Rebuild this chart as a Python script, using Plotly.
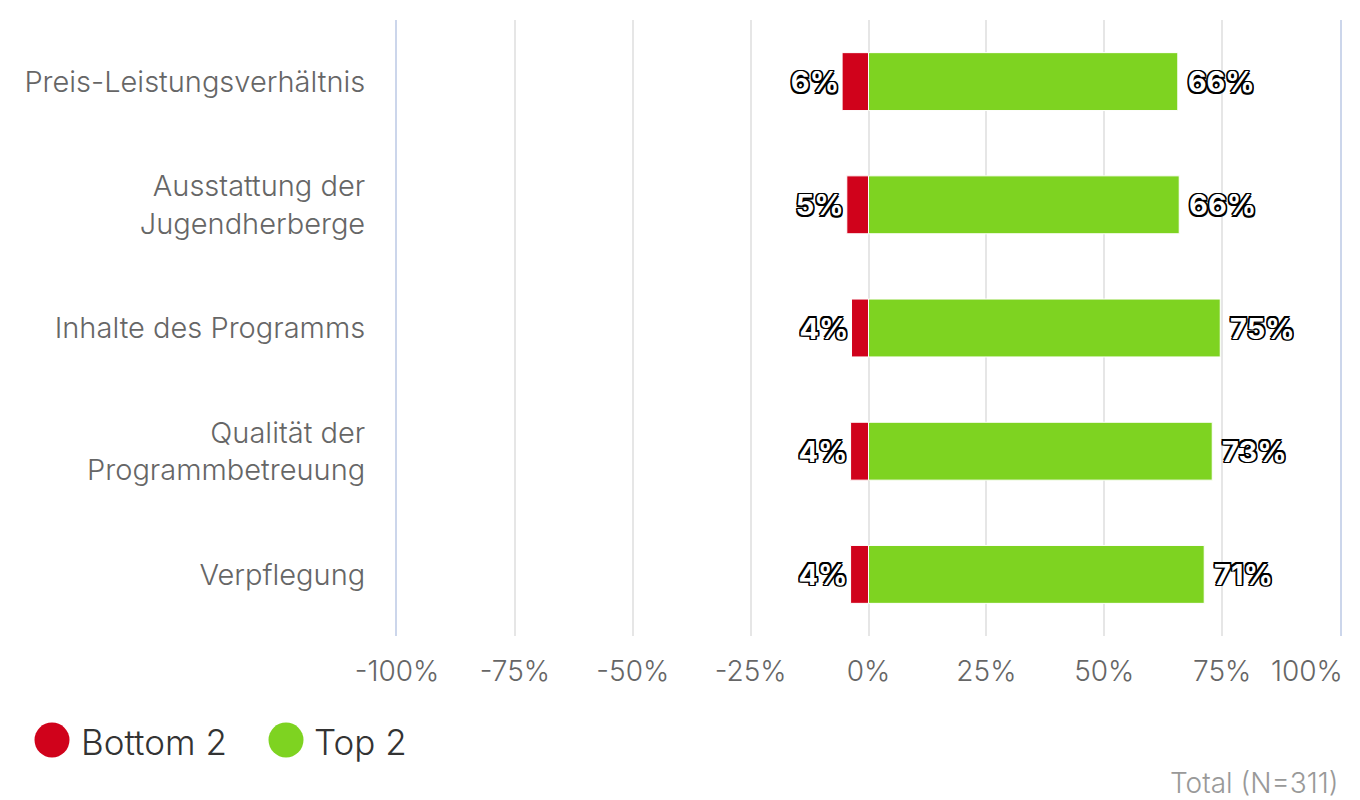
import plotly.graph_objects as go

# -----------------------------------------------------------
# Daten
# -----------------------------------------------------------
kategorien = [
    "Preis-Leistungsverhältnis",
    "Ausstattung der<br>Jugendherberge",
    "Inhalte des Programms",
    "Qualität der<br>Programmbetreuung",
    "Verpflegung",
]
bottom2 = [-5.6, -4.6, -3.6, -3.8, -3.8]
top2 = [65.6, 65.9, 74.6, 72.9, 71.2]

tick_werte = [-100, -75, -50, -25, 0, 25, 50, 75, 100]
tick_texte = ["-100%", "-75%", "-50%", "-25%", "0%", "25%", "50%", "75%", "100%"]

ROT = "#d0021b"
GRUEN = "#7ed321"
FONT = "Inter"

# Pixel -> Papier-Koordinaten (Plotbereich 397..1340 x 20..636)
L, R, T, B = 397, 20, 20, 164
W, H = 1360, 800
PW, PH = W - L - R, H - T - B


def px_x(px):
    return (px - L) / PW


def px_y(py):
    return 1 - (py - T) / PH


umriss = ("-1.5px -1.5px 0 #000, 1.5px -1.5px 0 #000, -1.5px 1.5px 0 #000, "
          "1.5px 1.5px 0 #000, 0 1.5px 0 #000, 0 -1.5px 0 #000, "
          "1.5px 0 0 #000, -1.5px 0 0 #000")
label_font = dict(family=FONT, size=29, color="white", weight="bold", shadow=umriss)
tick_font = dict(family=FONT, size=28, color="#666666", weight=300)

fig = go.Figure()
fig.add_trace(go.Bar(
    y=kategorien, x=bottom2, orientation="h", name="Bottom 2",
    marker=dict(color=ROT, line=dict(color="white", width=1)),
    text=[f"{abs(v):.0f}%" for v in bottom2], textposition="outside",
    textfont=label_font, cliponaxis=False, width=0.47, showlegend=False,
))
fig.add_trace(go.Bar(
    y=kategorien, x=top2, orientation="h", name="Top 2",
    marker=dict(color=GRUEN, line=dict(color="white", width=1)),
    text=[f"\u00a0{v:.0f}%" for v in top2], textposition="outside",
    textfont=label_font, cliponaxis=False, width=0.47, showlegend=False,
))

# Legende mit großen Kreisen
legende = [("Bottom 2", ROT, 52, 79), ("Top 2", GRUEN, 286, 312)]
for name, farbe, cx, tx in legende:
    fig.add_shape(type="circle", xref="paper", yref="paper",
                  xsizemode="pixel", ysizemode="pixel",
                  xanchor=px_x(cx), yanchor=px_y(740),
                  x0=-17.5, x1=17.5, y0=-17.5, y1=17.5,
                  fillcolor=farbe, line=dict(width=0))
    fig.add_annotation(text=name, xref="paper", yref="paper",
                       x=px_x(tx), y=px_y(742), xanchor="left", yanchor="middle",
                       showarrow=False,
                       font=dict(family=FONT, size=35, color="#333333", weight=300))

# letzte Achsenbeschriftung nach innen gerückt (wie im Original)
fig.add_annotation(text=tick_texte[-1], xref="x", yref="paper",
                   x=tick_werte[-1], y=px_y(671), xanchor="right", yanchor="middle",
                   xshift=5, showarrow=False, font=tick_font)

fig.add_annotation(text="Total (N=311)", xref="paper", yref="paper",
                   x=px_x(1341), y=px_y(783), xanchor="right", yanchor="middle",
                   showarrow=False,
                   font=dict(family=FONT, size=28, color="#999999", weight=300))

fig.update_layout(
    width=W, height=H,
    margin=dict(l=L, r=R, t=T, b=B),
    barmode="overlay",
    plot_bgcolor="white", paper_bgcolor="white",
    font=dict(family=FONT),
    xaxis=dict(
        range=[-100, 100], tickvals=tick_werte,
        ticktext=tick_texte[:-1] + [""],
        showgrid=True, gridcolor="#e6e6e6", gridwidth=2,
        zeroline=False, showline=False, automargin=False,
        tickfont=tick_font,
        ticklabelstandoff=16,
    ),
    yaxis=dict(
        autorange="reversed", range=[4.5, -0.5],
        showgrid=False, zeroline=False,
        showline=True, linecolor="#ccd6eb", linewidth=2, mirror=True,
        automargin=False, ticks="",
        tickfont=dict(family=FONT, size=29, color="#666666", weight=300),
        ticklabelstandoff=24,
    ),
)

fig.write_html("out.html", config={"displayModeBar": False},
               post_script="document.body.style.margin='0';")
